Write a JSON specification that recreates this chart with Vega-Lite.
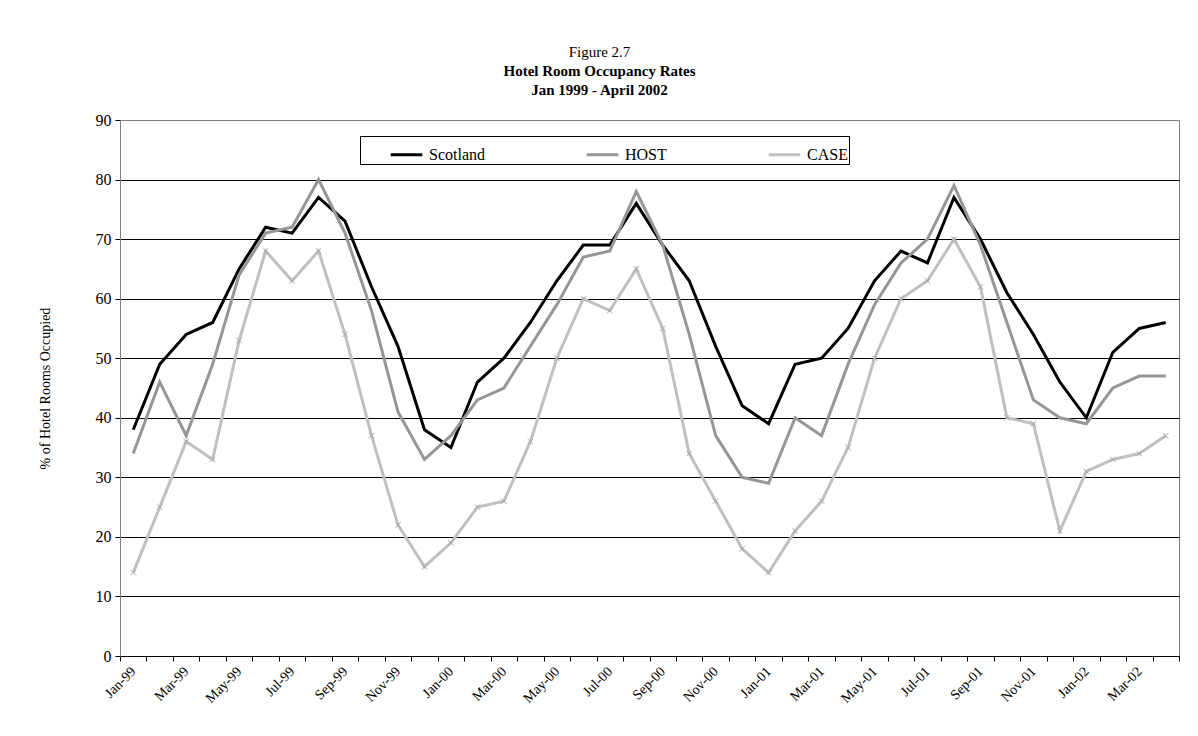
{
  "$schema": "https://vega.github.io/schema/vega-lite/v6.json",
  "width": 1059,
  "height": 536,
  "autosize": {"type": "none"},
  "padding": {"left": 120, "top": 120, "right": 19, "bottom": 80},
  "background": "white",
  "title": {
    "text": "Figure 2.7",
    "subtitle": ["Hotel Room Occupancy Rates", "Jan 1999 - April 2002"],
    "font": "Liberation Serif", "fontSize": 15, "fontWeight": "normal", "color": "#000",
    "subtitleFont": "Liberation Serif", "subtitleFontSize": 15, "subtitleFontWeight": "bold", "subtitleColor": "#000",
    "anchor": "middle", "frame": "group", "dx": -50, "offset": 14, "subtitlePadding": 4, "subtitleLineHeight": 19
  },
  "config": {
    "view": {"stroke": "#808080", "strokeWidth": 1},
    "axis": {"labelFont": "Liberation Serif", "titleFont": "Liberation Serif", "labelColor": "#000", "titleColor": "#000"}
  },
  "data": {"values": [
    {"month":"Jan-99","series":"Scotland","value":38},{"month":"Feb-99","series":"Scotland","value":49},{"month":"Mar-99","series":"Scotland","value":54},{"month":"Apr-99","series":"Scotland","value":56},{"month":"May-99","series":"Scotland","value":65},{"month":"Jun-99","series":"Scotland","value":72},{"month":"Jul-99","series":"Scotland","value":71},{"month":"Aug-99","series":"Scotland","value":77},{"month":"Sep-99","series":"Scotland","value":73},{"month":"Oct-99","series":"Scotland","value":62},{"month":"Nov-99","series":"Scotland","value":52},{"month":"Dec-99","series":"Scotland","value":38},
    {"month":"Jan-00","series":"Scotland","value":35},{"month":"Feb-00","series":"Scotland","value":46},{"month":"Mar-00","series":"Scotland","value":50},{"month":"Apr-00","series":"Scotland","value":56},{"month":"May-00","series":"Scotland","value":63},{"month":"Jun-00","series":"Scotland","value":69},{"month":"Jul-00","series":"Scotland","value":69},{"month":"Aug-00","series":"Scotland","value":76},{"month":"Sep-00","series":"Scotland","value":69},{"month":"Oct-00","series":"Scotland","value":63},{"month":"Nov-00","series":"Scotland","value":52},{"month":"Dec-00","series":"Scotland","value":42},
    {"month":"Jan-01","series":"Scotland","value":39},{"month":"Feb-01","series":"Scotland","value":49},{"month":"Mar-01","series":"Scotland","value":50},{"month":"Apr-01","series":"Scotland","value":55},{"month":"May-01","series":"Scotland","value":63},{"month":"Jun-01","series":"Scotland","value":68},{"month":"Jul-01","series":"Scotland","value":66},{"month":"Aug-01","series":"Scotland","value":77},{"month":"Sep-01","series":"Scotland","value":70},{"month":"Oct-01","series":"Scotland","value":61},{"month":"Nov-01","series":"Scotland","value":54},{"month":"Dec-01","series":"Scotland","value":46},
    {"month":"Jan-02","series":"Scotland","value":40},{"month":"Feb-02","series":"Scotland","value":51},{"month":"Mar-02","series":"Scotland","value":55},{"month":"Apr-02","series":"Scotland","value":56},
    {"month":"Jan-99","series":"HOST","value":34},{"month":"Feb-99","series":"HOST","value":46},{"month":"Mar-99","series":"HOST","value":37},{"month":"Apr-99","series":"HOST","value":49},{"month":"May-99","series":"HOST","value":64},{"month":"Jun-99","series":"HOST","value":71},{"month":"Jul-99","series":"HOST","value":72},{"month":"Aug-99","series":"HOST","value":80},{"month":"Sep-99","series":"HOST","value":71},{"month":"Oct-99","series":"HOST","value":58},{"month":"Nov-99","series":"HOST","value":41},{"month":"Dec-99","series":"HOST","value":33},
    {"month":"Jan-00","series":"HOST","value":37},{"month":"Feb-00","series":"HOST","value":43},{"month":"Mar-00","series":"HOST","value":45},{"month":"Apr-00","series":"HOST","value":52},{"month":"May-00","series":"HOST","value":59},{"month":"Jun-00","series":"HOST","value":67},{"month":"Jul-00","series":"HOST","value":68},{"month":"Aug-00","series":"HOST","value":78},{"month":"Sep-00","series":"HOST","value":69},{"month":"Oct-00","series":"HOST","value":54},{"month":"Nov-00","series":"HOST","value":37},{"month":"Dec-00","series":"HOST","value":30},
    {"month":"Jan-01","series":"HOST","value":29},{"month":"Feb-01","series":"HOST","value":40},{"month":"Mar-01","series":"HOST","value":37},{"month":"Apr-01","series":"HOST","value":49},{"month":"May-01","series":"HOST","value":59},{"month":"Jun-01","series":"HOST","value":66},{"month":"Jul-01","series":"HOST","value":70},{"month":"Aug-01","series":"HOST","value":79},{"month":"Sep-01","series":"HOST","value":69},{"month":"Oct-01","series":"HOST","value":56},{"month":"Nov-01","series":"HOST","value":43},{"month":"Dec-01","series":"HOST","value":40},
    {"month":"Jan-02","series":"HOST","value":39},{"month":"Feb-02","series":"HOST","value":45},{"month":"Mar-02","series":"HOST","value":47},{"month":"Apr-02","series":"HOST","value":47},
    {"month":"Jan-99","series":"CASE","value":14},{"month":"Feb-99","series":"CASE","value":25},{"month":"Mar-99","series":"CASE","value":36},{"month":"Apr-99","series":"CASE","value":33},{"month":"May-99","series":"CASE","value":53},{"month":"Jun-99","series":"CASE","value":68},{"month":"Jul-99","series":"CASE","value":63},{"month":"Aug-99","series":"CASE","value":68},{"month":"Sep-99","series":"CASE","value":54},{"month":"Oct-99","series":"CASE","value":37},{"month":"Nov-99","series":"CASE","value":22},{"month":"Dec-99","series":"CASE","value":15},
    {"month":"Jan-00","series":"CASE","value":19},{"month":"Feb-00","series":"CASE","value":25},{"month":"Mar-00","series":"CASE","value":26},{"month":"Apr-00","series":"CASE","value":36},{"month":"May-00","series":"CASE","value":50},{"month":"Jun-00","series":"CASE","value":60},{"month":"Jul-00","series":"CASE","value":58},{"month":"Aug-00","series":"CASE","value":65},{"month":"Sep-00","series":"CASE","value":55},{"month":"Oct-00","series":"CASE","value":34},{"month":"Nov-00","series":"CASE","value":26},{"month":"Dec-00","series":"CASE","value":18},
    {"month":"Jan-01","series":"CASE","value":14},{"month":"Feb-01","series":"CASE","value":21},{"month":"Mar-01","series":"CASE","value":26},{"month":"Apr-01","series":"CASE","value":35},{"month":"May-01","series":"CASE","value":50},{"month":"Jun-01","series":"CASE","value":60},{"month":"Jul-01","series":"CASE","value":63},{"month":"Aug-01","series":"CASE","value":70},{"month":"Sep-01","series":"CASE","value":62},{"month":"Oct-01","series":"CASE","value":40},{"month":"Nov-01","series":"CASE","value":39},{"month":"Dec-01","series":"CASE","value":21},
    {"month":"Jan-02","series":"CASE","value":31},{"month":"Feb-02","series":"CASE","value":33},{"month":"Mar-02","series":"CASE","value":34},{"month":"Apr-02","series":"CASE","value":37}
  ]},
  "encoding": {
    "x": {
      "field": "month", "type": "ordinal", "sort": null,
      "scale": {"type": "band", "paddingInner": 0, "paddingOuter": 0},
      "axis": {
        "title": null, "labelAngle": -45, "labelAlign": "right", "labelBaseline": "middle",
        "labelExpr": "test(/^(Jan|Mar|May|Jul|Sep|Nov)/, datum.value) ? datum.value : ''",
        "labelOverlap": false, "tickBand": "extent", "tickSize": 5, "tickColor": "#000",
        "domainColor": "#000", "labelFontSize": 14, "labelPadding": 8, "grid": false
      }
    },
    "y": {
      "field": "value", "type": "quantitative",
      "scale": {"domain": [0, 90], "nice": false},
      "axis": {
        "title": "% of Hotel Rooms Occupied", "values": [0,10,20,30,40,50,60,70,80,90],
        "grid": true, "gridColor": {"condition": {"test": "datum.value == 90", "value": "#808080"}, "value": "#000"},
        "gridWidth": 1, "tickSize": 5, "tickColor": "#000", "domainColor": "#808080",
        "labelFontSize": 16, "labelPadding": 4, "titleFontSize": 14, "titleFontWeight": "normal", "titlePadding": 43
      }
    }
  },
  "layer": [
    {
      "mark": {"type": "line", "strokeWidth": 3},
      "encoding": {
        "color": {
          "field": "series", "type": "nominal",
          "scale": {"domain": ["Scotland", "HOST", "CASE"], "range": ["#000000", "#969696", "#c0c0c0"]},
          "legend": {
            "orient": "none", "legendX": 240, "legendY": 16, "direction": "horizontal", "title": null,
            "symbolType": "stroke", "symbolStrokeWidth": 3, "symbolSize": 1000, "symbolOffset": 28,
            "labelFont": "Liberation Serif", "labelFontSize": 16, "labelColor": "#000", "labelOffset": 5,
            "strokeColor": "#000", "fillColor": "#fff", "padding": 1, "columnPadding": 72
          }
        }
      }
    },
    {
      "transform": [{"filter": "datum.series == 'CASE'"}],
      "mark": {"type": "point", "shape": "M-1,-1L1,1M-1,1L1,-1", "size": 30, "strokeWidth": 1, "filled": false, "color": "#a8a8a8", "opacity": 1},
      "encoding": {}
    }
  ]
}
